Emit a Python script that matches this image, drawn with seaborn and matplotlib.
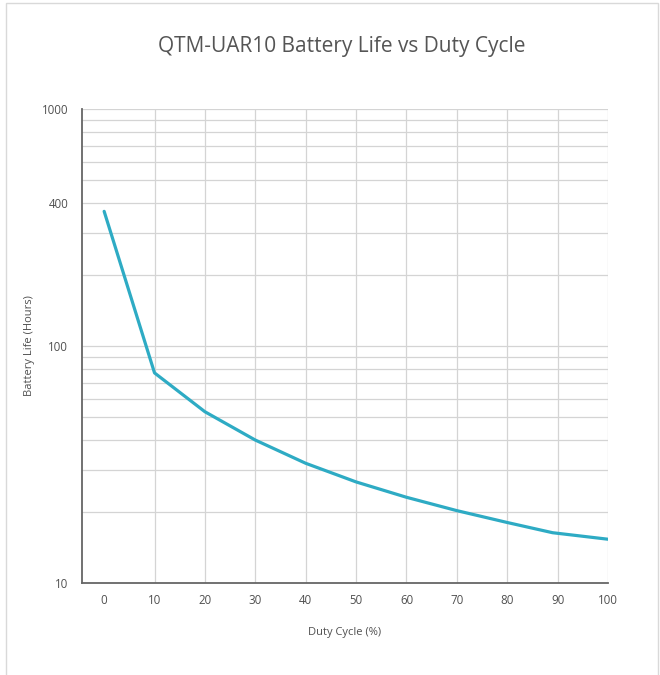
import matplotlib
matplotlib.use("Agg")
import matplotlib.pyplot as plt
import matplotlib.patches as patches
import seaborn as sns
import pandas as pd

# values
duty_cycle = [0, 10, 20, 30, 40, 50, 60, 70, 80, 89, 100]
battery_hours = [370, 77, 52.8, 40.1, 32.0, 26.7, 23.0, 20.2, 18.0, 16.3, 15.3]

y_ticks = [10, 100, 400, 1000]
y_tick_labels = ["10", "100", "400", "1000"]
x_ticks = list(range(0, 101, 10))

df = pd.DataFrame({"duty": duty_cycle, "hours": battery_hours})

sns.set_theme(style="white")
plt.rcParams["font.family"] = ["Open Sans", "DejaVu Sans"]

fig = plt.figure(figsize=(6.6, 6.75), dpi=100)
ax = fig.add_axes([0.1242, 0.1363, 0.797, 0.7022])

sns.lineplot(data=df, x="duty", y="hours", ax=ax, color="#2eabc4", linewidth=2.3)

ax.set_yscale("log")
ax.set_ylim(10, 1000)
ax.set_xlim(-4.4, 100)
ax.set_yticks(y_ticks)
ax.set_yticklabels(y_tick_labels)
ax.set_yticks([v * m for m in (10, 100) for v in range(2, 10)], minor=True)
ax.yaxis.set_minor_formatter(matplotlib.ticker.NullFormatter())
ax.set_xticks(x_ticks)

grid_color = "#d4d4d4"
ax.grid(axis="y", which="both", color=grid_color, linewidth=0.9)
ax.grid(axis="x", which="major", color=grid_color, linewidth=0.9)
ax.get_xgridlines()[0].set_visible(False)
ax.set_axisbelow(True)

for side in ("top", "right"):
    ax.spines[side].set_visible(False)
for side in ("left", "bottom"):
    ax.spines[side].set_color("#666666")
    ax.spines[side].set_linewidth(1.3)

ax.tick_params(axis="both", which="both", direction="in", length=4.5, width=0.9,
               color="#666666", labelcolor="#505050", labelsize=8.3)
ax.tick_params(axis="x", pad=8)
ax.tick_params(axis="y", pad=10)

ax.set_xlabel("Duty Cycle (%)", fontsize=8, color="#505050", labelpad=14)
ax.set_ylabel("Battery Life (Hours)", fontsize=8, color="#505050", labelpad=5)
fig.text(0.518, 0.931, "QTM-UAR10 Battery Life vs Duty Cycle", ha="center", va="center",
         fontsize=15, color="#555555")

# light card border
border = patches.Rectangle((0.009, -0.05), 0.988, 1.045, transform=fig.transFigure,
                           fill=False, edgecolor="#d9d9d9", linewidth=1.0)
fig.patches.append(border)

fig.savefig("out.png", dpi=100)
